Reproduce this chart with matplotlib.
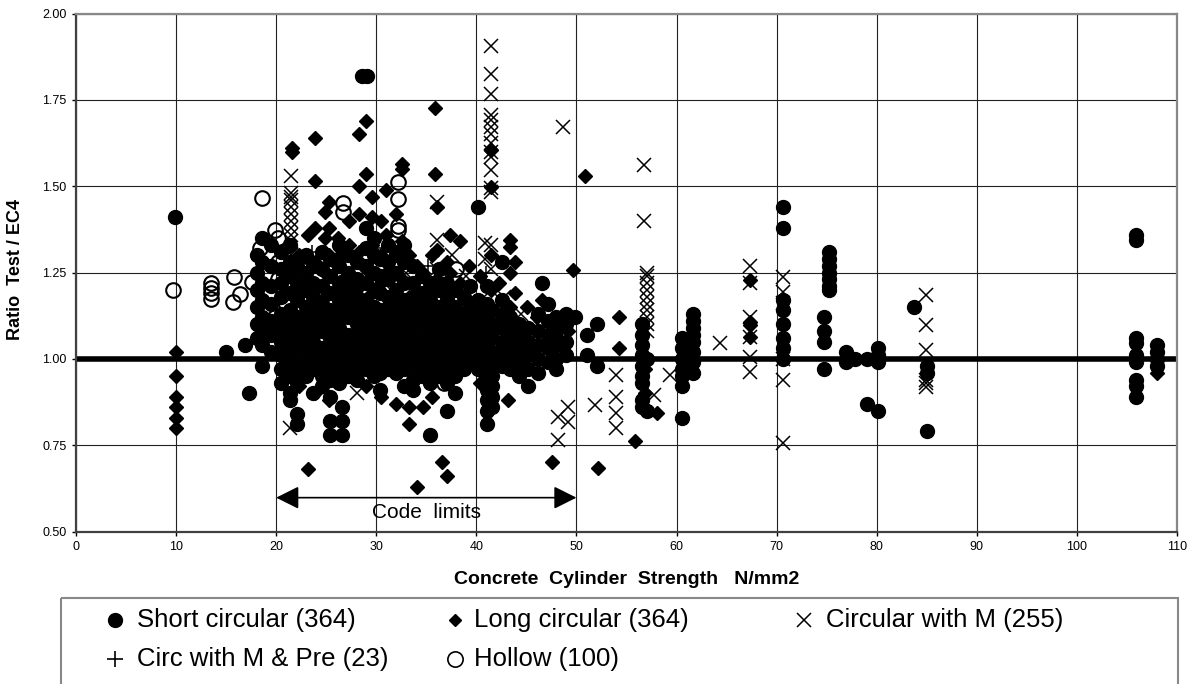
import matplotlib
matplotlib.use("Agg")
import matplotlib.pyplot as plt
from matplotlib.patches import Rectangle, ArrowStyle

plt.rcParams['font.family'] = ['Liberation Sans', 'DejaVu Sans']

# Each series is kept as (x, [y values at that x]) columns
short_cols = [
    (9.9, [1.41]), (15.0, [1.02]), (16.9, [1.04]), (17.3, [0.90]),
    (18.1, [1.30, 1.25, 1.20, 1.15, 1.10, 1.06]),
    (18.6, [1.35, 1.28, 1.22, 1.17, 1.12, 1.08, 1.04, 0.98]),
    (19.5, [1.33, 1.27, 1.21, 1.16, 1.11, 1.07, 1.02]),
    (20.5, [1.31, 1.26, 1.22, 1.18, 1.13, 1.09, 1.05, 1.01, 0.97, 0.93]),
    (21.4, [1.33, 1.28, 1.24, 1.19, 1.14, 1.10, 1.06, 1.02, 0.98, 0.95, 0.90, 0.88]),
    (22.1, [1.27, 1.22, 1.17, 1.12, 1.08, 1.04, 1.00, 0.96, 0.93, 0.84, 0.81]),
    (23.0, [1.30, 1.25, 1.20, 1.15, 1.11, 1.07, 1.03, 0.99, 0.95]),
    (23.7, [1.27, 1.22, 1.18, 1.13, 1.09, 1.05, 1.01, 0.97, 0.90]),
    (24.6, [1.31, 1.26, 1.21, 1.16, 1.12, 1.08, 1.03, 0.99, 0.95, 0.92]),
    (25.4, [1.29, 1.24, 1.19, 1.14, 1.10, 1.06, 1.02, 0.98, 0.94, 0.89, 0.82, 0.78]),
    (26.3, [1.33, 1.27, 1.22, 1.17, 1.13, 1.09, 1.05, 1.01, 0.97, 0.93]),
    (26.6, [0.86, 0.82, 0.78]),
    (27.2, [1.30, 1.25, 1.20, 1.16, 1.12, 1.07, 1.03, 0.99, 0.95]),
    (28.1, [1.28, 1.23, 1.18, 1.14, 1.10, 1.06, 1.02, 0.98, 0.94]),
    (28.6, [1.82]), (29.1, [1.82]),
    (29.0, [1.38, 1.32, 1.27, 1.22, 1.17, 1.13, 1.09, 1.05, 1.01, 0.97]),
    (29.8, [1.35, 1.30, 1.25, 1.20, 1.15, 1.11, 1.07, 1.03, 0.99, 0.95]),
    (30.4, [1.29, 1.24, 1.19, 1.14, 1.10, 1.06, 1.02, 0.96, 0.91]),
    (31.2, [1.33, 1.28, 1.23, 1.18, 1.13, 1.09, 1.05, 1.01, 0.97]),
    (32.0, [1.30, 1.25, 1.20, 1.16, 1.12, 1.08, 1.04, 1.00, 0.96]),
    (32.8, [1.33, 1.28, 1.22, 1.17, 1.13, 1.09, 1.05, 1.01, 0.97, 0.92]),
    (33.7, [1.27, 1.22, 1.18, 1.14, 1.10, 1.06, 1.02, 0.98, 0.94, 0.91]),
    (34.6, [1.24, 1.19, 1.15, 1.11, 1.07, 1.03, 0.99, 0.95]),
    (35.4, [1.22, 1.17, 1.13, 1.09, 1.05, 1.01, 0.97, 0.93, 0.78]),
    (36.3, [1.26, 1.20, 1.15, 1.11, 1.07, 1.03, 0.99, 0.95]),
    (37.1, [1.22, 1.17, 1.13, 1.09, 1.05, 1.01, 0.97, 0.93, 0.85]),
    (37.9, [1.20, 1.15, 1.11, 1.07, 1.03, 0.99, 0.95, 0.90]),
    (38.8, [1.18, 1.13, 1.09, 1.05, 1.01, 0.97]),
    (39.4, [1.21, 1.16, 1.12, 1.08, 1.04, 1.00]),
    (40.2, [1.44, 1.17, 1.13, 1.09, 1.05, 1.01, 0.97]),
    (41.1, [1.21, 1.16, 1.12, 1.08, 1.04, 1.00, 0.97, 0.94, 0.91, 0.88, 0.85, 0.81]),
    (41.6, [1.14, 1.10, 1.06, 1.02, 0.98, 0.95, 0.92, 0.89, 0.86]),
    (42.6, [1.28, 1.17, 1.13, 1.09, 1.05, 1.01, 0.98]),
    (43.4, [1.12, 1.08, 1.04, 1.00, 0.97]),
    (44.3, [1.10, 1.06, 1.02, 0.98, 0.95]),
    (45.2, [1.09, 1.05, 1.01, 0.97, 0.92]),
    (46.2, [1.13, 1.08, 1.04, 1.00, 0.96]),
    (46.6, [1.22]),
    (47.2, [1.16, 1.11, 1.07, 1.03, 0.99]),
    (48.0, [1.12, 1.08, 1.04, 1.00, 0.97]),
    (49.0, [1.13, 1.10, 1.05, 1.01]),
    (49.9, [1.12]), (51.1, [1.07, 1.01]), (52.1, [1.10, 0.98]),
    (56.5, [1.10, 1.07, 1.04, 1.01, 0.98, 0.95, 0.93, 0.88, 0.86]),
    (57.0, [0.85, 1.00]),
    (60.5, [1.06, 1.03, 1.00, 0.97, 0.95, 0.92, 0.83]),
    (61.6, [1.13, 1.11, 1.09, 1.07, 1.05, 1.02, 0.99, 0.96]),
    (70.6, [1.44, 1.38, 1.17, 1.14, 1.10, 1.06, 1.03, 1.00]),
    (74.7, [1.12, 1.08, 1.05, 0.97]),
    (75.2, [1.31, 1.29, 1.27, 1.25, 1.23, 1.21, 1.20]),
    (76.9, [1.02, 0.99]), (77.8, [1.00]), (79.0, [1.00, 0.87]),
    (80.1, [1.03, 1.01, 0.99, 0.85]), (83.7, [1.15]), (85.0, [0.98, 0.96, 0.79]),
    (105.9, [1.36, 1.345, 1.06, 1.045, 1.01, 0.99, 0.94, 0.92, 0.89]),
    (108.0, [1.04, 1.02, 1.00, 0.98]),
]

long_cols = [
    (10.0, [1.02, 0.95, 0.89, 0.86, 0.83, 0.80]),
    (21.6, [1.61, 1.60, 1.25, 1.12, 0.98]),
    (22.3, [1.30, 1.20, 1.05, 0.92]),
    (23.2, [1.36, 1.22, 1.10, 0.68]),
    (23.9, [1.38, 1.64, 1.515, 1.28, 1.15, 1.02, 0.90]),
    (24.9, [1.425, 1.35, 1.25, 1.18, 1.08, 0.96]),
    (25.3, [1.455, 1.38, 1.30, 1.14, 0.88]),
    (26.2, [1.35, 1.27, 1.20, 1.04, 0.93]),
    (26.4, [1.30, 1.12, 0.99]),
    (27.3, [1.40, 1.33, 1.24, 1.16, 1.06, 0.95]),
    (28.3, [1.65, 1.50, 1.42, 1.31, 1.21, 1.09]),
    (29.0, [1.69, 1.535, 1.38, 1.26, 1.15, 1.02, 0.92]),
    (29.6, [1.47, 1.41, 1.33, 1.19, 1.07]),
    (30.5, [1.40, 1.30, 1.22, 1.12, 1.00, 0.89]),
    (31.0, [1.49, 1.36, 1.25, 1.15, 1.04]),
    (32.0, [1.42, 1.31, 1.20, 1.10, 0.99, 0.87]),
    (32.6, [1.565, 1.55, 1.34, 1.23, 1.13]),
    (33.3, [1.30, 1.18, 1.06, 0.86, 0.81]),
    (34.1, [1.27, 1.14, 1.02, 0.63]),
    (34.7, [1.25, 1.16, 0.86]),
    (35.6, [1.30, 1.20, 1.08, 0.89]),
    (35.9, [1.726, 1.535]),
    (36.1, [1.44, 1.315, 1.23, 1.12, 1.00]),
    (36.6, [0.70]),
    (37.1, [1.28, 1.18, 1.06, 0.94, 0.66]),
    (37.4, [1.36, 1.25, 1.14]),
    (38.4, [1.34, 1.22, 1.10, 0.98]),
    (39.3, [1.27, 1.16, 1.05]),
    (40.4, [1.24, 1.12, 1.03, 0.93]),
    (41.5, [1.605, 1.498, 1.30, 1.20, 1.09, 0.99, 0.90]),
    (42.3, [1.22, 1.11, 1.01]),
    (43.2, [0.88]),
    (43.4, [1.344, 1.324, 1.25, 1.15, 1.06]),
    (43.9, [1.28, 1.19, 1.04]),
    (45.1, [1.15, 1.08, 1.01]),
    (46.1, [1.12, 1.03]),
    (46.6, [1.17]), (47.6, [0.70]), (48.2, [1.06, 1.00]), (49.2, [1.08]),
    (49.7, [1.257]), (50.9, [1.53]), (52.2, [0.684]), (54.3, [1.12, 1.03]),
    (55.8, [0.763]), (56.8, [0.97, 0.90]), (58.0, [0.843]), (61.3, [1.04, 0.99]),
    (67.3, [1.228, 1.106, 1.098, 1.064]),
    (108.0, [0.96]),
]

moment_cols = [
    (21.4, [0.80]),
    (21.5, [1.53, 1.48, 1.47, 1.46, 1.44, 1.42, 1.40, 1.38, 1.36, 1.34, 1.30]),
    (23.6, [1.20, 1.08]), (25.0, [1.24, 1.00]), (26.9, [1.15, 1.05]),
    (28.1, [0.90, 1.18]), (29.5, [1.27, 1.12]), (31.5, [1.20, 1.06, 0.98]),
    (33.0, [1.25, 1.10]), (34.5, [1.17, 1.03]), (36.1, [1.455, 1.344, 1.26]),
    (37.6, [1.30, 1.13, 1.00]), (39.0, [1.24, 1.08]), (40.9, [1.335, 1.29, 1.15]),
    (41.5, [1.907, 1.825, 1.767, 1.706, 1.692, 1.672, 1.65, 1.625, 1.60, 1.585,
            1.547, 1.494, 1.483, 1.33, 1.26, 1.20]),
    (42.8, [1.18, 1.07]), (44.5, [1.13, 1.02]), (46.5, [1.09]),
    (48.2, [0.832, 0.765]), (48.7, [1.672]), (49.2, [0.861, 0.817]),
    (51.9, [0.866]), (54.0, [0.953, 0.89, 0.843, 0.80]),
    (56.7, [1.56, 1.40]),
    (57.0, [1.25, 1.24, 1.22, 1.20, 1.18, 1.16, 1.14, 1.12, 1.10, 1.08]),
    (57.7, [0.895]), (59.3, [0.953]), (64.3, [1.046]),
    (67.3, [1.27, 1.219, 1.121, 1.063, 1.005, 0.963]),
    (70.6, [1.237, 1.194, 1.162, 1.00, 0.94, 0.756]),
    (84.9, [1.185, 1.098, 1.026, 0.94, 0.93, 0.919]),
]

pre_cols = [
    (21.5, [1.32, 1.27]), (22.8, [1.19]), (24.5, [1.11]), (27.0, [1.22]),
    (29.3, [1.09]), (31.8, [1.15]), (33.6, [1.04]), (35.2, [1.27]),
    (36.9, [1.10]), (38.5, [1.20]), (40.2, [1.06]), (42.2, [1.14]),
    (44.8, [1.08]), (28.0, [1.01]), (30.8, [1.32]), (23.6, [1.31]),
    (26.0, [1.10]), (32.5, [1.18]), (34.3, [1.22]), (37.3, [1.02]),
    (39.6, [1.13]), (41.0, [1.25]),
]

hollow_cols = [
    (9.7, [1.20]), (13.5, [1.22, 1.205, 1.19, 1.173]), (15.8, [1.237]),
    (16.4, [1.188]), (15.7, [1.165]), (17.6, [1.222]), (18.4, [1.321, 1.06]),
    (18.6, [1.466]), (19.9, [1.373, 1.12]), (20.2, [1.35, 1.28, 1.23]),
    (21.0, [1.16, 1.02]), (22.5, [1.26, 1.07]), (24.3, [1.19]),
    (26.7, [1.451, 1.425, 1.237, 1.222]), (28.0, [1.14]), (30.0, [1.21]),
    (32.2, [1.512, 1.462, 1.385, 1.373]), (33.8, [1.16]), (35.5, [1.12]),
    (36.8, [0.93]), (38.0, [1.26]), (39.8, [1.10]),
]

labels = ['Short circular (364)', 'Long circular (364)', 'Circular with M (255)',
          'Circ with M & Pre (23)', 'Hollow (100)']
x_ticks = list(range(0, 111, 10))
y_ticks = [0.50, 0.75, 1.00, 1.25, 1.50, 1.75, 2.00]


def unpack(cols):
    xs, ys = [], []
    for x, yl in cols:
        xs += [x] * len(yl)
        ys += yl
    return xs, ys


W, H = 1199, 684
fig = plt.figure(figsize=(W / 100, H / 100), dpi=100)
ax = fig.add_axes([76 / W, 1 - 531.5 / H, 1101 / W, 518 / H])

ax.set_xlim(0, 110)
ax.set_ylim(0.5, 2.0)
ax.set_xticks(x_ticks)
ax.set_yticks(y_ticks)
ax.set_yticklabels(['%.2f' % v for v in y_ticks])
ax.tick_params(labelsize=9, direction='out', length=3, width=1, pad=4)
ax.grid(True, color='#222222', linewidth=0.8)
ax.set_axisbelow(True)
for s in ['left', 'bottom']:
    ax.spines[s].set_color('#404040')
    ax.spines[s].set_linewidth(1.6)
for s in ['top', 'right']:
    ax.spines[s].set_color('#888888')
    ax.spines[s].set_linewidth(1.6)

# reference line at ratio 1.0
ax.axhline(1.0, color='black', linewidth=4, zorder=2)

sx, sy = unpack(short_cols)
ax.plot(sx, sy, 'o', color='black', markersize=10, zorder=3)
hx, hy = unpack(hollow_cols)
ax.plot(hx, hy, 'o', mfc='none', mec='black', mew=1.5, markersize=10.5, zorder=4)
lx, ly = unpack(long_cols)
ax.plot(lx, ly, 'D', color='black', markersize=7, zorder=5)
mx, my = unpack(moment_cols)
ax.plot(mx, my, 'x', color='black', markersize=10, mew=1.1, zorder=6)
px, py = unpack(pre_cols)
ax.plot(px, py, '+', color='black', markersize=10, mew=1.1, zorder=7)

# code limits arrow
ax.annotate('', xy=(20, 0.598), xytext=(50, 0.598),
            arrowprops=dict(arrowstyle=ArrowStyle('<|-|>', head_length=0.7, head_width=0.35),
                            mutation_scale=20, color='black', lw=1.2,
                            shrinkA=0, shrinkB=0), zorder=8)
ax.text(35, 0.556, 'Code  limits', ha='center', va='center', fontsize=15)

fig.text(627 / W, 1 - 580 / H, 'Concrete  Cylinder  Strength   N/mm2',
         ha='center', va='center', fontsize=14, fontweight='bold')
fig.text(16 / W, 1 - 270 / H, 'Ratio  Test / EC4', ha='center', va='center',
         rotation=90, fontsize=13, fontweight='bold')

# legend box drawn in pixel space below the plot
lg = fig.add_axes([0, 0, 1, 1], zorder=-1)
lg.set_xlim(0, W)
lg.set_ylim(H, 0)
lg.axis('off')
lg.add_patch(Rectangle((61, 598), 1117, 100, fill=False, edgecolor='#888888', linewidth=1.5))
rows = [620, 659]
lg.plot(115, rows[0], 'o', color='black', markersize=10)
lg.plot(455, rows[0], 'D', color='black', markersize=6.5)
lg.plot(804, rows[0], 'x', color='black', markersize=10, mew=1.1)
lg.plot(115, rows[1], '+', color='black', markersize=11, mew=1.2)
lg.plot(455, rows[1], 'o', mfc='none', mec='black', mew=1.2, markersize=11)
pos = [(137, rows[0]), (474, rows[0]), (826, rows[0]), (137, rows[1]), (474, rows[1])]
for (tx, ty), t in zip(pos, labels):
    lg.text(tx, ty, t, ha='left', va='center', fontsize=18.5)

fig.savefig('out.png', dpi=100)
